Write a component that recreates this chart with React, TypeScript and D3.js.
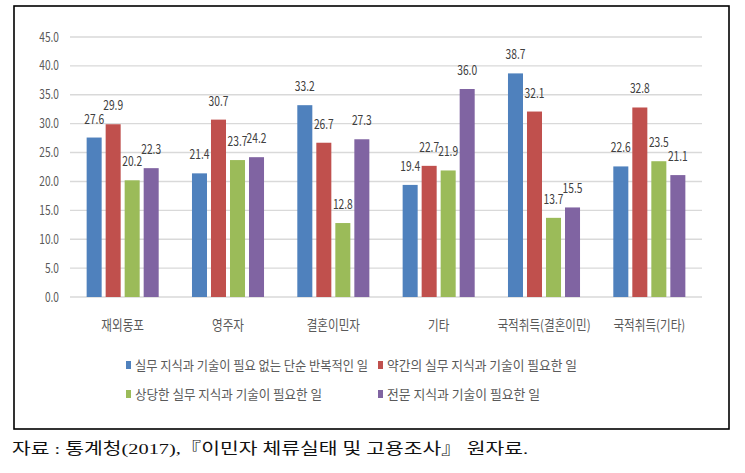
import React from "react";
import * as d3 from "d3";

const categories = ["재외동포", "영주자", "결혼이민자", "기타", "국적취득(결혼이민)", "국적취득(기타)"];
const seriesNames = [
  "실무 지식과 기술이 필요 없는 단순 반복적인 일",
  "약간의 실무 지식과 기술이 필요한 일",
  "상당한 실무 지식과 기술이 필요한 일",
  "전문 지식과 기술이 필요한 일",
];
const simple = [27.6, 21.4, 33.2, 19.4, 38.7, 22.6];
const some = [29.9, 30.7, 26.7, 22.7, 32.1, 32.8];
const considerable = [20.2, 23.7, 12.8, 21.9, 13.7, 23.5];
const expert = [22.3, 24.2, 27.3, 36.0, 15.5, 21.1];
const seriesValues = [simple, some, considerable, expert];
const colors = ["#4F81BD", "#C0504D", "#9BBB59", "#8064A2"];
const yTicks = [0, 5, 10, 15, 20, 25, 30, 35, 40, 45];
const sourceText = "자료 : 통계청(2017),『이민자 체류실태 및 고용조사』 원자료.";

const W = 745;
const H = 473;
const FONT = "'Noto Sans CJK KR', 'Noto Sans', sans-serif";

export default function App() {
  const x0 = d3
    .scaleBand<string>()
    .domain(categories)
    .range([70, 702])
    .paddingInner(0.316)
    .paddingOuter(0.158);
  const x1 = d3
    .scaleBand<number>()
    .domain([0, 1, 2, 3])
    .range([0, x0.bandwidth()])
    .paddingInner(0.21)
    .paddingOuter(0);
  const y = d3.scaleLinear().domain([0, 45]).range([297, 37]);

  const legendPos = [
    { x: 128, y: 365, len: 233 },
    { x: 380, y: 365, len: 190 },
    { x: 128, y: 394, len: 187 },
    { x: 380, y: 394, len: 153 },
  ];

  return (
    <div style={{ position: "absolute", left: 0, top: 0 }}>
      <svg width={W} height={H} style={{ display: "block", background: "#fff" }}>
        <rect x={14} y={6} width={715} height={423} fill="#fff" stroke="#000" strokeWidth={1.6} />
        {yTicks.map((t) => (
          <g key={t}>
            <line x1={70} x2={702} y1={y(t)} y2={y(t)} stroke="#d9d9d9" strokeWidth={1.4} />
            <text
              transform={`translate(59,${y(t) + 4.5}) scale(0.78,1)`}
              textAnchor="end"
              fontFamily={FONT}
              fontSize={13}
              fill="#595959"
            >
              {t.toFixed(1)}
            </text>
          </g>
        ))}
        {categories.map((c, ci) => (
          <g key={c} transform={`translate(${x0(c)},0)`}>
            {seriesValues.map((vals, si) => {
              const v = vals[ci];
              const bx = x1(si)!;
              const bw = x1.bandwidth();
              return (
                <g key={si}>
                  <rect x={bx} y={y(v)} width={bw} height={y(0) - y(v)} fill={colors[si]} />
                  <text
                    transform={`translate(${bx + bw / 2},${y(v) - 14}) scale(0.76,1)`}
                    textAnchor="middle"
                    fontFamily={FONT}
                    fontSize={13.5}
                    fill="#404040"
                  >
                    {v.toFixed(1)}
                  </text>
                </g>
              );
            })}
            <text
              transform={`translate(${x0.bandwidth() / 2},330) scale(0.86,1)`}
              textAnchor="middle"
              fontFamily={FONT}
              fontSize={13.5}
              fill="#595959"
            >
              {c}
            </text>
          </g>
        ))}
        {seriesNames.map((n, i) => (
          <g key={n}>
            <rect x={legendPos[i].x - 2} y={legendPos[i].y - 4} width={5} height={8} fill={colors[i]} />
            <text
              x={legendPos[i].x + 7}
              y={legendPos[i].y + 5}
              fontFamily={FONT}
              fontSize={13}
              fill="#595959"
              textLength={legendPos[i].len}
              lengthAdjust="spacingAndGlyphs"
            >
              {n}
            </text>
          </g>
        ))}
        <text
          x={12}
          y={454}
          fontFamily="'Liberation Serif', 'Noto Sans CJK KR', serif"
          fontSize={15.5}
          fill="#111"
          textLength={516}
          lengthAdjust="spacingAndGlyphs"
        >
          {sourceText}
        </text>
      </svg>
    </div>
  );
}
